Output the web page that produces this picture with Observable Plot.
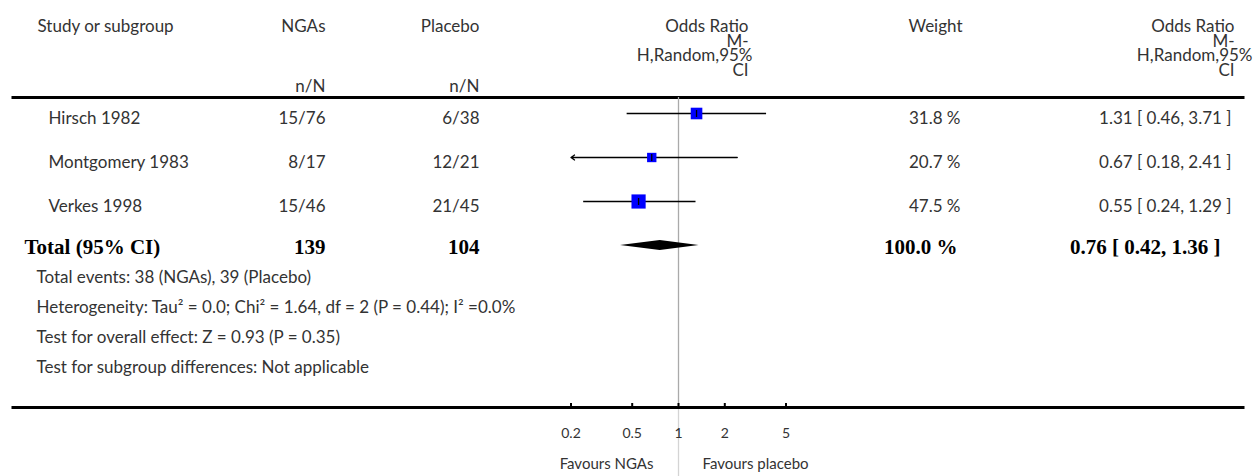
<!DOCTYPE html>
<html><head><meta charset="utf-8">
<script src="https://cdn.jsdelivr.net/npm/d3@7"></script>
<script src="https://cdn.jsdelivr.net/npm/@observablehq/plot@0.6"></script>
<style>html,body{margin:0;padding:0;background:#fff} svg{display:block}</style>
</head><body><div id="chart"></div>
<script>
// ---- data ----
const studies = ["Hirsch 1982", "Montgomery 1983", "Verkes 1998"];
const ngaEvents = [15, 8, 15];
const ngaTotals = [76, 17, 46];
const placeboEvents = [6, 12, 21];
const placeboTotals = [38, 21, 45];
const weights = [31.8, 20.7, 47.5];
const oddsRatios = [1.31, 0.67, 0.55];
const ciLower = [0.46, 0.18, 0.24];
const ciUpper = [3.71, 2.41, 1.29];
const totalLabel = "Total (95% CI)";
const totalN = [139, 104];
const totalWeight = 100.0;
const totalOR = [0.76, 0.42, 1.36];
const xTicks = [0.2, 0.5, 1, 2, 5];
const headerLines = ["Odds Ratio", "M-", "H,Random,95%", "CI"];
const footnotes = [
  "Total events: 38 (NGAs), 39 (Placebo)",
  "Heterogeneity: Tau² = 0.0; Chi² = 1.64, df = 2 (P = 0.44); I² =0.0%",
  "Test for overall effect: Z = 0.93 (P = 0.35)",
  "Test for subgroup differences: Not applicable"
];
const favours = ["Favours NGAs", "Favours placebo"];

// ---- tables built from the arrays ----
const rows = studies.map((s, i) => ({
  i, study: s,
  nga: `${ngaEvents[i]}/${ngaTotals[i]}`,
  plc: `${placeboEvents[i]}/${placeboTotals[i]}`,
  w: weights[i], or: oddsRatios[i], lo: ciLower[i], hi: ciUpper[i]
}));
const totalRow = studies.length;
const xMin = xTicks[0];
const fmt = v => v.toFixed(2);
const diamondHalf = 0.115;
const diamond = [
  {y: totalRow - diamondHalf, x1: totalOR[0], x2: totalOR[0]},
  {y: totalRow, x1: totalOR[1], x2: totalOR[2]},
  {y: totalRow + diamondHalf, x1: totalOR[0], x2: totalOR[0]}
];

const W = 1258, H = 476, MT = 97, MB = 69;
const FH = H - MT - MB;
const sans = "Lato, 'Open Sans', sans-serif";
const serif = "'Liberation Serif', 'DejaVu Serif', serif";
const ink = "#333";
const FS = 17;
const vbar = {draw(ctx) { ctx.moveTo(0, -3.5); ctx.lineTo(0, 3.5); }};
const lineLen = W - 11 - 14;

const rowText = (text, dx, anchor) =>
  Plot.text(rows, {y: "i", text, frameAnchor: "left", dx, dy: 5, textAnchor: anchor, fill: ink, fontSize: FS});
const boldText = (value, text, dx, anchor) =>
  Plot.text([value], {y: () => totalRow, text, frameAnchor: "left", dx, dy: 2, textAnchor: anchor,
    fontFamily: serif, fontWeight: "bold", fontSize: 21, fill: "black"});
const topText = (t, dx, dy, anchor) =>
  Plot.text([t], {text: d => d, frameAnchor: "top-left", dx, dy, textAnchor: anchor, lineAnchor: "middle", fill: ink, fontSize: FS});
// header block of the two odds-ratio columns: right aligned, the long line overflows a little
const orHeader = (right, overflow) => headerLines.map((t, k) =>
  topText(t, right + (t.length > 10 ? overflow : 0), -71 + k * 14.6, "end"));

const chart = Plot.plot({
  width: W, height: H,
  marginTop: MT, marginBottom: MB, marginLeft: 0, marginRight: 0,
  style: {fontFamily: sans, fontSize: FS + "px", color: ink, background: "#fff", overflow: "visible"},
  x: {type: "log", domain: [xTicks[0], xTicks[xTicks.length - 1]], range: [570.5, 785.5], axis: null},
  y: {domain: [0, totalRow], range: [113, 245], axis: null},
  r: {type: "sqrt", domain: [0, d3.max(weights)], range: [0, 8]},
  marks: [
    // top and bottom rules
    Plot.frame({stroke: "black", strokeWidth: 3, insetLeft: 11, insetRight: 14,
      strokeDasharray: `${lineLen} ${FH} ${lineLen} ${FH}`}),
    // line of no effect
    Plot.ruleX([1], {stroke: "#aaa", strokeWidth: 1.3}),
    Plot.ruleX([1], {stroke: "#d4d4d4", strokeWidth: 1.3, insetTop: FH + 2, insetBottom: -MB}),
    // axis ticks and labels
    Plot.ruleX(xTicks, {x: d => d, stroke: "black", strokeWidth: 2, insetTop: FH - 4}),
    Plot.text(xTicks, {x: d => d, text: d => String(d), frameAnchor: "bottom", dy: 30, fontSize: 14, fill: ink}),
    // confidence intervals
    Plot.link(rows.filter(d => d.lo >= xMin), {x1: "lo", x2: "hi", y1: "i", y2: "i", stroke: "black", strokeWidth: 1.3}),
    Plot.arrow(rows.filter(d => d.lo < xMin), {x1: "hi", x2: d => Math.max(d.lo, xMin), y1: "i", y2: "i",
      stroke: "black", strokeWidth: 1.3, headLength: 5, headAngle: 70}),
    // boxes
    Plot.dot(rows, {x: "or", y: "i", r: "w", symbol: "square", fill: "#0000ff", stroke: null}),
    Plot.dot(rows, {x: "or", y: "i", r: 3, symbol: vbar, stroke: "black", strokeWidth: 1.3, fill: "none"}),
    // diamond
    Plot.areaX(diamond, {y: "y", x1: "x1", x2: "x2", fill: "black", curve: "linear"}),
    // study rows text
    rowText("study", 48, "start"),
    rowText("nga", 325, "end"),
    rowText("plc", 479, "end"),
    rowText(d => `${d.w.toFixed(1)} %`, 960, "end"),
    rowText(d => `${fmt(d.or)} [ ${fmt(d.lo)}, ${fmt(d.hi)} ]`, 1231, "end"),
    // total row
    boldText(totalLabel, d => d, 24, "start"),
    boldText(totalN[0], d => String(d), 325, "end"),
    boldText(totalN[1], d => String(d), 479, "end"),
    boldText(totalWeight, d => `${d.toFixed(1)} %`, 957, "end"),
    boldText(totalOR, d => `${fmt(d[0])} [ ${fmt(d[1])}, ${fmt(d[2])} ]`, 1220, "end"),
    // header
    topText("Study or subgroup", 37, -71, "start"),
    topText("NGAs", 325, -71, "end"),
    topText("Placebo", 479, -71, "end"),
    topText("n/N", 325, -11, "end"),
    topText("n/N", 479, -11, "end"),
    ...orHeader(748, 4),
    topText("Weight", 962, -71, "end"),
    ...orHeader(1234, 18),
    // footnotes
    ...footnotes.map((f, k) => topText(f, 36, 180 + k * 30, "start")),
    // favours labels
    Plot.text([favours[0]], {x: () => 1, text: d => d, frameAnchor: "bottom", dx: -25, dy: 61, textAnchor: "end", fontSize: 15, fill: ink}),
    Plot.text([favours[1]], {x: () => 1, text: d => d, frameAnchor: "bottom", dx: 24, dy: 61, textAnchor: "start", fontSize: 15, fill: ink})
  ]
});
document.getElementById("chart").append(chart);
</script>
</body></html>
